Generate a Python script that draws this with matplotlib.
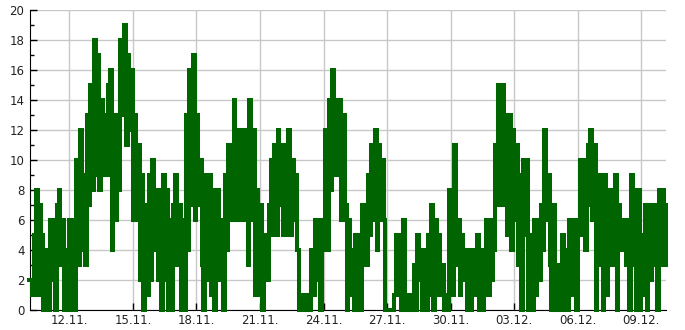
import matplotlib
matplotlib.use("Agg")
import matplotlib.pyplot as plt
import matplotlib.dates as mdates
from matplotlib.ticker import MultipleLocator
import pandas as pd

# readings every 2 hours, one row per day (10.11. starts at 02:00, 10.12. ends at 04:00)
nov = [
    [2, 2, 1, 5, 8, 1, 7, 5, 0, 2, 4],                 # 10.11.
    [0, 6, 2, 6, 0, 7, 8, 3, 6, 0, 4, 0],              # 11.11.
    [6, 0, 6, 0, 10, 3, 12, 4, 9, 3, 13, 7],           # 12.11.
    [15, 8, 18, 9, 17, 8, 14, 9, 13, 9, 15, 16],       # 13.11.
    [4, 13, 6, 13, 8, 18, 13, 19, 11, 17, 12, 16],     # 14.11.
    [6, 13, 6, 11, 2, 9, 0, 7, 1, 9, 2, 10],           # 15.11.
    [4, 8, 2, 8, 0, 9, 2, 8, 0, 6, 0, 7],              # 16.11.
    [9, 3, 7, 0, 6, 0, 13, 4, 16, 7, 17, 6],           # 17.11.
    [13, 7, 10, 3, 0, 9, 2, 9, 1, 8, 0, 6],            # 18.11.
    [8, 2, 6, 0, 9, 4, 11, 6, 9, 14, 6, 12],           # 19.11.
    [6, 12, 6, 12, 10, 3, 14, 6, 12, 1, 8, 1],         # 20.11.
    [7, 0, 3, 5, 2, 7, 10, 5, 11, 5, 12, 7],           # 21.11.
    [11, 5, 11, 5, 12, 5, 10, 6, 9, 4, 0, 1],          # 22.11.
    [0, 1, 0, 1, 0, 4, 1, 6, 2, 6, 0, 6],              # 23.11.
    [4, 12, 4, 14, 8, 16, 9, 14, 9, 14, 6, 13],        # 24.11.
    [7, 0, 6, 1, 4, 0, 5, 0, 5, 0, 7, 3],              # 25.11.
    [3, 9, 5, 11, 6, 12, 4, 11, 6, 10, 6, 0],          # 26.11.
    [0, 0, 0, 0, 1, 5, 1, 5, 0, 6, 0, 1],              # 27.11.
    [0, 1, 0, 3, 0, 5, 2, 4, 0, 4, 0, 5],              # 28.11.
    [1, 7, 0, 6, 1, 5, 1, 3, 0, 1, 0, 8],              # 29.11.
    [8, 1, 11, 3, 6, 1, 5, 2, 4, 0, 4, 0],             # 30.11.
]
dec = [
    [1, 4, 1, 5, 0, 4, 0, 4, 6, 1, 6, 2],              # 01.12.
    [4, 11, 7, 15, 7, 15, 7, 13, 5, 13, 4, 12],        # 02.12.
    [6, 11, 3, 9, 0, 10, 5, 10, 0, 5, 0, 6],           # 03.12.
    [1, 6, 2, 7, 4, 12, 6, 9, 3, 0, 7, 0],             # 04.12.
    [2, 3, 0, 5, 0, 4, 0, 6, 1, 6, 2, 0],              # 05.12.
    [6, 10, 5, 10, 4, 7, 11, 12, 6, 11, 0, 9],         # 06.12.
    [3, 9, 0, 9, 1, 8, 3, 8, 3, 9, 0, 7],              # 07.12.
    [6, 4, 6, 3, 6, 0, 9, 3, 8, 0, 8, 0],              # 08.12.
    [5, 1, 7, 0, 7, 2, 7, 3, 7, 0, 8, 3],              # 09.12.
    [8, 3, 7],                                         # 10.12.
]

values = [v for day in nov + dec for v in day]
times = pd.date_range("2024-11-10 02:00", periods=len(values), freq="2h")

tick_days = pd.date_range("2024-11-12", "2024-12-09", freq="3D")

fig = plt.figure(figsize=(6.85, 3.3), dpi=100)
ax = fig.add_axes([30 / 685, 20 / 330, 636 / 685, 300 / 330])

ax.plot(times, values, drawstyle="steps-post", color="#006400", lw=2.9,
        solid_joinstyle="miter", clip_on=False, zorder=3)

ax.set_xlim(pd.Timestamp("2024-11-10 03:30"), pd.Timestamp("2024-12-10 03:50"))
ax.set_ylim(0, 20)
ax.yaxis.set_major_locator(MultipleLocator(2))
ax.yaxis.set_minor_locator(MultipleLocator(1))
ax.set_xticks(tick_days)
ax.xaxis.set_major_formatter(mdates.DateFormatter("%d.%m."))

ax.grid(True, which="major", color="#c8c8c8", lw=1)
ax.set_axisbelow(True)
for s in ("top", "right"):
    ax.spines[s].set_visible(False)
ax.spines["left"].set_color("black")
ax.spines["bottom"].set_color("black")
ax.tick_params(which="major", direction="in", length=5, width=1,
               labelsize=8.5, labelcolor="#222222")
ax.tick_params(which="minor", direction="in", length=3, width=1)
ax.tick_params(axis="x", pad=3)
ax.tick_params(axis="y", pad=4)

fig.savefig("out.png", dpi=100)
